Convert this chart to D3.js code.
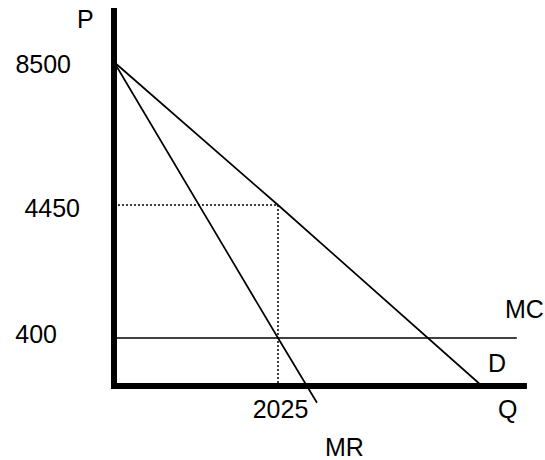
<!DOCTYPE html>
<html>
<head>
<meta charset="utf-8">
<script src="https://cdn.jsdelivr.net/npm/d3@7"></script>
<style>
  html, body { margin: 0; padding: 0; background: #fff; }
  svg text { font-family: "Liberation Sans", Arial, sans-serif; font-size: 25px; fill: #000; }
</style>
</head>
<body>
<svg id="chart" width="545" height="460"></svg>
<script>
// ---- data ----
const priceTicks = [8500, 4450, 400];
const qtyTicks = [2025];
const demand = [[0, 8500], [2025, 4450], [4250, 0]];
const marginalRevenue = [[0, 8500], [2025, 400], [2450, -140]];
const marginalCost = [[0, 400], [4630, 400]];
const optimumQ = 2025, optimumP = 4450;
const curveLabels = ["MC", "D", "MR"];
const axisLabels = ["P", "Q"];

// ---- scales (schematic diagram: piecewise linear) ----
const x = d3.scaleLinear().domain([0, 2025, 4250]).range([114, 278, 482]);
const y = d3.scaleLinear().domain([0, 400, 4450, 8500]).range([386, 338, 205, 62]);
const xMax = 4740, yMax = 10030;

const svg = d3.select("#chart");
const line = d3.line().x(d => x(d[0])).y(d => y(d[1]));

// dotted guides
svg.append("path")
  .attr("d", line([[0, optimumP], [optimumQ, optimumP], [optimumQ, 0]]))
  .attr("fill", "none").attr("stroke", "#000").attr("stroke-width", 1.5)
  .attr("stroke-dasharray", "2,2");

// MC
svg.append("path").attr("d", line(marginalCost))
  .attr("fill", "none").attr("stroke", "#000").attr("stroke-width", 1.4);
// demand
svg.append("path").attr("d", line(demand))
  .attr("fill", "none").attr("stroke", "#000").attr("stroke-width", 1.7);
// MR
svg.append("path").attr("d", line(marginalRevenue))
  .attr("fill", "none").attr("stroke", "#000").attr("stroke-width", 1.7);

// axes lines
svg.append("line")
  .attr("x1", x(0)).attr("x2", x(0)).attr("y1", y(yMax)).attr("y2", y(0) + 3)
  .attr("stroke", "#000").attr("stroke-width", 6);
svg.append("line")
  .attr("x1", x(0) - 3).attr("x2", x(xMax)).attr("y1", y(0)).attr("y2", y(0))
  .attr("stroke", "#000").attr("stroke-width", 6);

// tick labels via d3 axes
const yAxis = svg.append("g")
  .attr("transform", `translate(${x(0)},0)`)
  .call(d3.axisLeft(y).tickValues(priceTicks).tickSize(0).tickPadding(0).tickFormat(d3.format("d")));
yAxis.select(".domain").remove();
const yLabelNudge = { 8500: [-43, 2], 4450: [-34, 3], 400: [-57, -4] };
yAxis.selectAll(".tick text")
  .attr("font-size", null).attr("font-family", null)
  .attr("x", d => yLabelNudge[d][0])
  .attr("dy", d => (yLabelNudge[d][1] + 8.5) + "px");

const xAxis = svg.append("g")
  .attr("transform", `translate(0,${y(0)})`)
  .call(d3.axisBottom(x).tickValues(qtyTicks).tickSize(0).tickPadding(0).tickFormat(d3.format("d")));
xAxis.select(".domain").remove();
xAxis.selectAll(".tick text")
  .attr("font-size", null).attr("font-family", null)
  .attr("dy", null).attr("y", 32).attr("dx", 2);

// curve & axis labels
svg.append("text").attr("x", 505).attr("y", 318).text(curveLabels[0]);
svg.append("text").attr("x", 488).attr("y", 372).text(curveLabels[1]);
svg.append("text").attr("x", 325).attr("y", 456).text(curveLabels[2]);
svg.append("text").attr("x", 77).attr("y", 28).text(axisLabels[0]);
svg.append("text").attr("x", 498).attr("y", 418).text(axisLabels[1]);
</script>
</body>
</html>
